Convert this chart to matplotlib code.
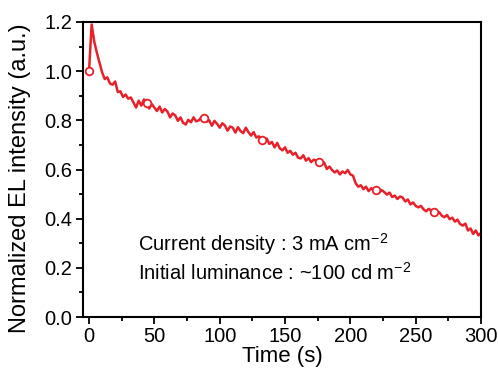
import numpy as np
import matplotlib
matplotlib.use("Agg")
import matplotlib.pyplot as plt
from matplotlib.ticker import MultipleLocator

plt.rcParams['font.family'] = ['Liberation Sans', 'DejaVu Sans']
plt.rcParams['mathtext.fontset'] = 'custom'
plt.rcParams['mathtext.rm'] = 'Liberation Sans'
plt.rcParams['mathtext.it'] = 'Liberation Sans:italic'

# time (s), sampled every 2 s
time_s = np.arange(0, 301, 2)
# normalized EL intensity
intensity = [
    1.000, 1.190, 1.120, 1.075, 1.035, 0.995, 0.968, 0.975, 0.950, 0.945,
    0.958, 0.915, 0.918, 0.895, 0.905, 0.888, 0.893, 0.872, 0.852, 0.880,
    0.860, 0.885, 0.870, 0.848, 0.866, 0.852, 0.838, 0.856, 0.832, 0.846,
    0.836, 0.812, 0.828, 0.820, 0.798, 0.812, 0.790, 0.783, 0.802, 0.792,
    0.812, 0.796, 0.800, 0.812, 0.808, 0.795, 0.800, 0.778, 0.798, 0.786,
    0.770, 0.788, 0.779, 0.758, 0.775, 0.770, 0.750, 0.772, 0.756, 0.748,
    0.770, 0.752, 0.738, 0.752, 0.730, 0.735, 0.722, 0.712, 0.726, 0.704,
    0.712, 0.690, 0.708, 0.686, 0.678, 0.690, 0.668, 0.676, 0.660, 0.668,
    0.648, 0.645, 0.658, 0.636, 0.646, 0.630, 0.640, 0.636, 0.632, 0.620,
    0.628, 0.602, 0.612, 0.598, 0.588, 0.596, 0.580, 0.592, 0.585, 0.598,
    0.580, 0.575, 0.545, 0.530, 0.536, 0.520, 0.530, 0.512, 0.524, 0.515,
    0.517, 0.506, 0.516, 0.508, 0.498, 0.506, 0.488, 0.494, 0.480, 0.490,
    0.486, 0.470, 0.478, 0.458, 0.466, 0.452, 0.446, 0.452, 0.438, 0.430,
    0.440, 0.432, 0.428, 0.420, 0.426, 0.412, 0.406, 0.415, 0.398, 0.404,
    0.388, 0.396, 0.378, 0.372, 0.380, 0.352, 0.360, 0.338, 0.352, 0.332,
    0.342,
]
# open-circle markers along the trace
marker_t = [0, 44, 88, 132, 176, 220, 264]
marker_v = [1.000, 0.870, 0.808, 0.722, 0.632, 0.517, 0.428]

red = '#e8202a'

fig = plt.figure(figsize=(4.98, 3.69), dpi=100)
ax = fig.add_axes([0.1667, 0.1409, 0.7992, 0.7995])

ax.plot(time_s, intensity, color=red, lw=1.8)
ax.plot(marker_t, marker_v, 'o', mfc='white', mec=red, mew=1.3, ms=5.5)

ax.set_xlim(-4.6, 300)
ax.set_ylim(0, 1.2)
ax.xaxis.set_major_locator(MultipleLocator(50))
ax.xaxis.set_minor_locator(MultipleLocator(25))
ax.yaxis.set_major_locator(MultipleLocator(0.2))
ax.yaxis.set_minor_locator(MultipleLocator(0.1))
ax.yaxis.set_major_formatter(lambda v, p: f"{v:.1f}")

for s in ax.spines.values():
    s.set_linewidth(1.5)
ax.tick_params(which='both', direction='out', width=1.3, labelsize=14.5,
               top=False, right=False)
ax.tick_params(which='major', length=5)
ax.tick_params(axis='x', which='major', pad=2)
ax.tick_params(axis='y', which='major', pad=2.5)
ax.tick_params(which='minor', length=3)

# x label hugs the bottom edge of the figure
ax.set_xlabel('Time (s)', fontsize=16, va='bottom')
ax.set_ylabel('Normalized EL intensity (a.u.)', fontsize=17)
ax.xaxis.set_label_coords(0.5, -0.171)
ax.yaxis.set_label_coords(-0.13, 0.47)

ax.text(37.5, 0.2685, 'Current density : 3 mA cm$^{-2}$', fontsize=14.5,
        va='baseline')
ax.text(37.5, 0.1505, 'Initial luminance : ~100 cd m$^{-2}$', fontsize=14.5,
        va='baseline')

fig.savefig('out.png', dpi=100)
